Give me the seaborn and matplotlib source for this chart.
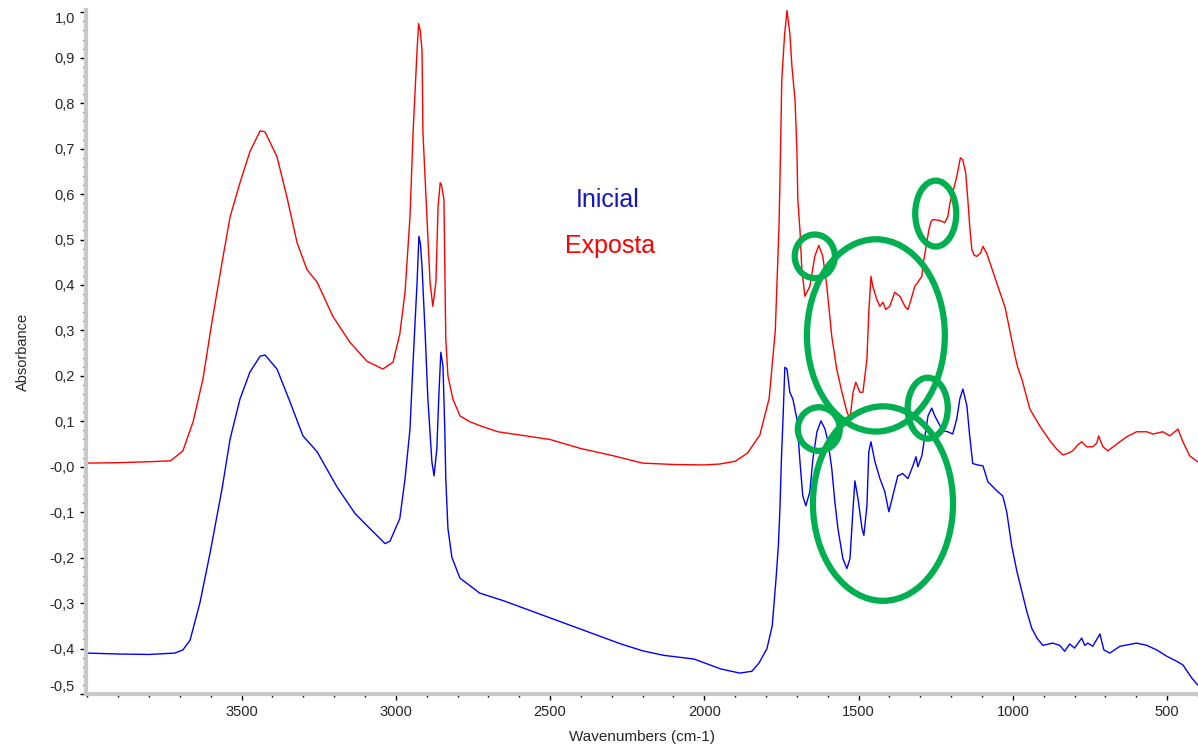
import numpy as np
import pandas as pd
import seaborn as sns
import matplotlib.pyplot as plt
from matplotlib.patches import Ellipse
from matplotlib.ticker import MultipleLocator

# Exposta (red) spectrum
wn_exposta = [4000, 3900, 3800, 3730, 3690, 3657, 3625, 3596, 3563, 3537, 3505, 3473, 3440, 3424,
              3385, 3353, 3320, 3288, 3255, 3204, 3149, 3093, 3042, 3009, 2987, 2970, 2954, 2944,
              2931, 2926, 2921, 2915, 2912, 2899, 2889, 2880, 2870, 2863, 2856, 2852, 2844, 2838,
              2831, 2815, 2792, 2760, 2718, 2669, 2600, 2500, 2400, 2300, 2200, 2100, 2000, 1950,
              1900, 1860, 1820, 1790, 1770, 1758, 1755, 1749, 1740, 1732, 1723, 1716, 1706, 1700,
              1697, 1690, 1684, 1674, 1658, 1642, 1629, 1616, 1603, 1587, 1571, 1554, 1538, 1528,
              1518, 1509, 1496, 1486, 1473, 1467, 1460, 1454, 1441, 1431, 1421, 1412, 1399, 1383,
              1366, 1350, 1340, 1327, 1318, 1308, 1295, 1290, 1279, 1272, 1265, 1259, 1237, 1221,
              1211, 1204, 1195, 1182, 1170, 1162, 1153, 1146, 1140, 1133, 1125, 1117, 1105, 1097,
              1085, 1060, 1040, 1025, 1010, 995, 985, 971, 945, 913, 880, 858, 838, 820, 806, 790,
              777, 761, 741, 728, 722, 715, 708, 692, 663, 631, 599, 566, 546, 514, 491, 470, 465,
              449, 427, 401]
abs_exposta = [0.008, 0.009, 0.011, 0.013, 0.035, 0.099, 0.193, 0.318, 0.450, 0.550, 0.625, 0.693,
               0.739, 0.737, 0.682, 0.594, 0.493, 0.434, 0.406, 0.331, 0.274, 0.232, 0.215, 0.230,
               0.292, 0.384, 0.550, 0.735, 0.917, 0.975, 0.960, 0.917, 0.735, 0.550, 0.406, 0.353,
               0.406, 0.572, 0.625, 0.620, 0.588, 0.281, 0.200, 0.149, 0.112, 0.099, 0.088, 0.077,
               0.070, 0.060, 0.040, 0.025, 0.008, 0.005, 0.004, 0.006, 0.012, 0.030, 0.070, 0.150,
               0.300, 0.530, 0.625, 0.851, 0.950, 1.004, 0.954, 0.880, 0.807, 0.697, 0.588, 0.520,
               0.434, 0.375, 0.397, 0.463, 0.487, 0.463, 0.397, 0.287, 0.215, 0.164, 0.121, 0.105,
               0.164, 0.186, 0.164, 0.164, 0.237, 0.340, 0.419, 0.397, 0.368, 0.353, 0.362, 0.346,
               0.353, 0.384, 0.375, 0.353, 0.346, 0.375, 0.397, 0.406, 0.419, 0.450, 0.493, 0.522,
               0.540, 0.544, 0.542, 0.537, 0.550, 0.580, 0.603, 0.638, 0.680, 0.675, 0.647, 0.588,
               0.530, 0.478, 0.465, 0.463, 0.470, 0.485, 0.470, 0.420, 0.380, 0.350, 0.300, 0.250,
               0.220, 0.193, 0.127, 0.090, 0.057, 0.039, 0.026, 0.030, 0.035, 0.048, 0.055, 0.044,
               0.044, 0.052, 0.068, 0.055, 0.044, 0.035, 0.050, 0.066, 0.077, 0.077, 0.072, 0.077,
               0.068, 0.080, 0.083, 0.055, 0.024, 0.011]

# Inicial (blue) spectrum
wn_inicial = [4000, 3900, 3800, 3716, 3690, 3667, 3635, 3602, 3563, 3537, 3505, 3473, 3440, 3424,
              3385, 3343, 3301, 3255, 3191, 3132, 3084, 3035, 3019, 2987, 2970, 2954, 2944, 2931,
              2925, 2920, 2915, 2905, 2896, 2883, 2876, 2867, 2860, 2854, 2847, 2841, 2838, 2831,
              2818, 2792, 2728, 2650, 2550, 2450, 2350, 2270, 2200, 2131, 2034, 1946, 1885, 1846,
              1823, 1797, 1780, 1768, 1760, 1755, 1750, 1745, 1739, 1732, 1723, 1713, 1700, 1690,
              1681, 1671, 1658, 1648, 1635, 1622, 1609, 1599, 1587, 1577, 1567, 1551, 1538, 1528,
              1518, 1512, 1502, 1489, 1483, 1473, 1467, 1460, 1447, 1431, 1415, 1402, 1389, 1373,
              1357, 1340, 1324, 1314, 1308, 1295, 1285, 1275, 1263, 1253, 1243, 1227, 1211, 1195,
              1182, 1172, 1162, 1149, 1140, 1130, 1114, 1097, 1081, 1052, 1033, 1020, 1004, 987,
              971, 955, 939, 922, 903, 871, 848, 832, 816, 800, 777, 767, 757, 741, 718, 705, 686,
              653, 599, 566, 534, 501, 469, 449, 420, 401]
abs_inicial = [-0.410, -0.412, -0.413, -0.410, -0.403, -0.382, -0.300, -0.190, -0.048, 0.061, 0.149,
               0.208, 0.243, 0.246, 0.215, 0.143, 0.068, 0.033, -0.044, -0.103, -0.136, -0.169,
               -0.164, -0.114, -0.026, 0.083, 0.230, 0.406, 0.507, 0.490, 0.440, 0.296, 0.149,
               0.011, -0.020, 0.039, 0.164, 0.252, 0.221, 0.077, -0.026, -0.136, -0.200, -0.245,
               -0.278, -0.295, -0.320, -0.345, -0.370, -0.390, -0.405, -0.415, -0.423, -0.445,
               -0.454, -0.450, -0.432, -0.400, -0.350, -0.250, -0.173, -0.092, 0.020, 0.105, 0.219,
               0.215, 0.164, 0.149, 0.105, 0.011, -0.064, -0.086, -0.055, 0.018, 0.077, 0.101,
               0.083, 0.055, -0.004, -0.077, -0.136, -0.202, -0.224, -0.202, -0.092, -0.031, -0.070,
               -0.136, -0.151, -0.086, 0.033, 0.055, 0.011, -0.026, -0.055, -0.099, -0.064, -0.020,
               -0.015, -0.026, 0.002, 0.022, 0.000, 0.024, 0.068, 0.112, 0.129, 0.112, 0.099, 0.079,
               0.077, 0.072, 0.105, 0.149, 0.171, 0.134, 0.068, 0.007, 0.004, 0.002, -0.033, -0.053,
               -0.064, -0.099, -0.173, -0.230, -0.274, -0.318, -0.355, -0.377, -0.393, -0.388,
               -0.393, -0.406, -0.390, -0.399, -0.377, -0.393, -0.388, -0.395, -0.368, -0.403,
               -0.410, -0.395, -0.388, -0.393, -0.403, -0.417, -0.428, -0.436, -0.465, -0.480]

# green circles marking the changed bands: centre wn, centre abs, width (cm-1), height
circle_wn = [1642, 1444, 1629, 1276, 1421, 1250]
circle_abs = [0.463, 0.289, 0.083, 0.129, -0.081, 0.557]
circle_w = [130, 447, 136, 130, 454, 133]
circle_h = [0.096, 0.423, 0.096, 0.134, 0.428, 0.145]

ytick_vals = [1.0, 0.9, 0.8, 0.7, 0.6, 0.5, 0.4, 0.3, 0.2, 0.1, 0.0, -0.1, -0.2, -0.3, -0.4, -0.5]
ytick_labels = ['1,0', '0,9', '0,8', '0,7', '0,6', '0,5', '0,4', '0,3', '0,2', '0,1',
                '-0,0', '-0,1', '-0,2', '-0,3', '-0,4', '-0,5']
xtick_vals = [3500, 3000, 2500, 2000, 1500, 1000, 500]

df = pd.concat([
    pd.DataFrame({'wn': wn_exposta, 'abs': abs_exposta, 'amostra': 'Exposta'}),
    pd.DataFrame({'wn': wn_inicial, 'abs': abs_inicial, 'amostra': 'Inicial'}),
])

sns.set_style('white')
plt.rcParams['font.family'] = ['Liberation Sans', 'DejaVu Sans']

fig = plt.figure(figsize=(11.98, 7.51), dpi=100)
ax = fig.add_axes([0.0718, 0.0759, 0.9282, 0.9108])

sns.lineplot(data=df, x='wn', y='abs', hue='amostra', estimator=None, sort=False,
             palette={'Exposta': '#FF0000', 'Inicial': '#0000FF'}, linewidth=1.0,
             legend=False, ax=ax)

for cx, cy, w, h in zip(circle_wn, circle_abs, circle_w, circle_h):
    ax.add_patch(Ellipse((cx, cy), w, h, fill=False, ec='#00B050', lw=4.5, zorder=5))

ax.text(2312, 0.588, 'Inicial', color='#1414C8', fontsize=18, ha='center', va='center')
ax.text(2306, 0.485, 'Exposta', color='#FF0000', fontsize=18, ha='center', va='center')

ax.set_xlim(4004, 400)
ax.set_ylim(-0.5, 1.005)

ax.set_xticks(xtick_vals)
ax.set_xticklabels([str(v) for v in xtick_vals])
ax.xaxis.set_minor_locator(MultipleLocator(100))
ax.set_yticks(ytick_vals)
ax.set_yticklabels(ytick_labels)
ax.yaxis.set_minor_locator(MultipleLocator(0.02))

ax.tick_params(axis='both', which='major', direction='out', length=4, width=1,
               color='black', labelsize=10.5, pad=4, bottom=True, left=True)
ax.tick_params(axis='both', which='minor', direction='out', length=2.5, width=1,
               color='black', bottom=True, left=True)
ylabs = ax.get_yticklabels()
ylabs[0].set_va('top')
ylabs[-1].set_va('bottom')

for side in ['top', 'right']:
    ax.spines[side].set_visible(False)
for side in ['left', 'bottom']:
    ax.spines[side].set_color('#C8C8C8')
    ax.spines[side].set_linewidth(3)

ax.set_xlabel('Wavenumbers (cm-1)', fontsize=11, labelpad=8)
ax.set_ylabel('Absorbance', fontsize=10.5, labelpad=14)

fig.savefig('out.png', dpi=100)
